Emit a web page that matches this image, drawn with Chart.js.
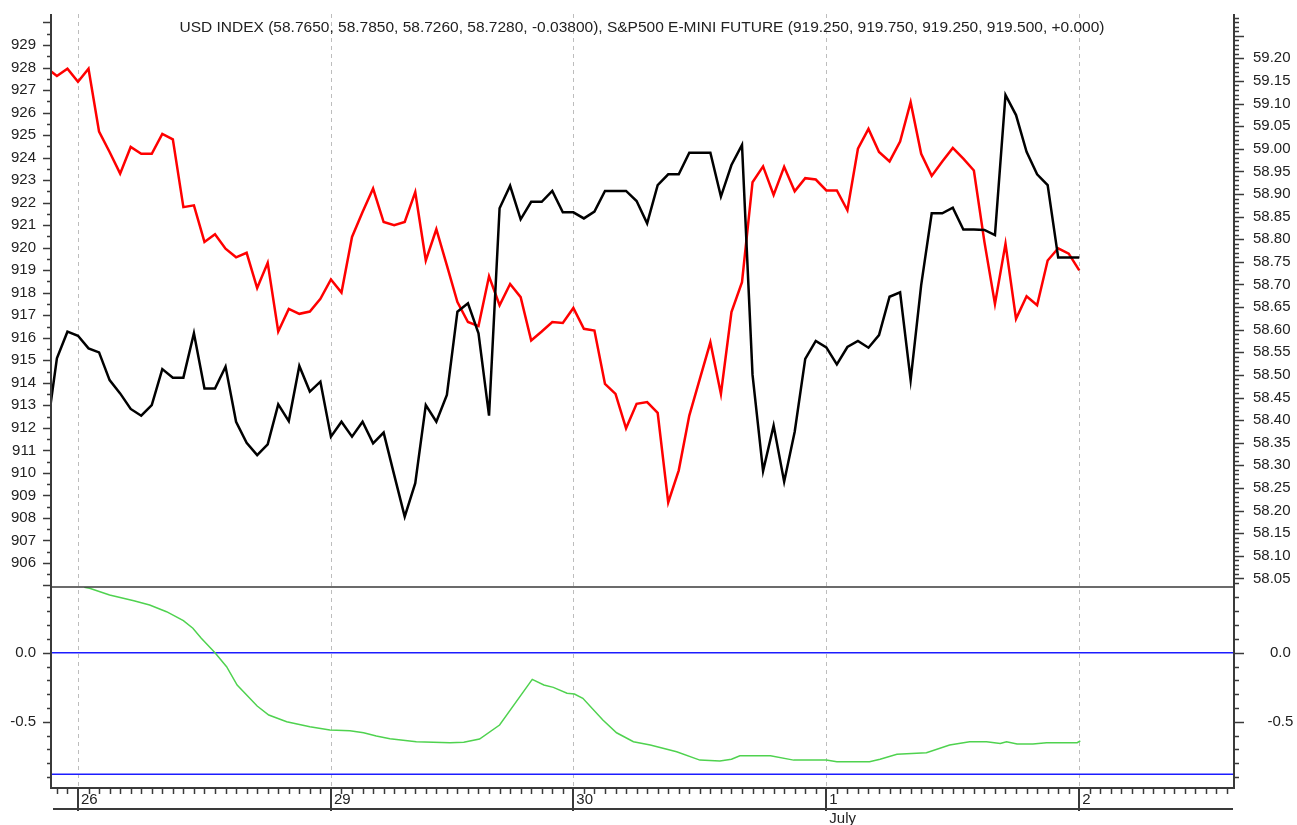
<!DOCTYPE html>
<html>
<head>
<meta charset="utf-8">
<script src="https://cdn.jsdelivr.net/npm/chart.js@4.4.1/dist/chart.umd.min.js"></script>
<style>
  html, body { margin: 0; padding: 0; background: #fff; }
  #wrap { position: relative; width: 1297px; height: 825px; }
  #title {
    position: absolute; left: 0; top: 18px; width: 1284px;
    text-align: center; color: #222;
    font: 15.5px "Liberation Sans", Arial, sans-serif; line-height: 18px;
    pointer-events: none;
  }
</style>
</head>
<body>
<div id="wrap">
  <canvas id="corrChart"></canvas>
  <div id="title">USD INDEX (58.7650, 58.7850, 58.7260, 58.7280, -0.03800), S&amp;P500 E-MINI FUTURE (919.250, 919.750, 919.250, 919.500, +0.000)</div>
</div>
<script>
// hourly bars, bar 0 = start of the 26th
const firstBar = -3;

// S&P500 e-mini close per bar (left axis)
const spValues = [
  911.68, 915.09, 916.27, 916.09, 915.53, 915.35, 914.12, 913.53, 912.84, 912.54,
  913.01, 914.61, 914.23, 914.23, 916.20, 913.75, 913.75, 914.72, 912.27, 911.34,
  910.79, 911.27, 913.04, 912.30, 914.75, 913.61, 914.05, 911.61, 912.27, 911.61,
  912.27, 911.31, 911.79, 909.91, 908.06, 909.54, 913.01, 912.27, 913.46, 917.16,
  917.53, 916.20, 912.54, 921.75, 922.75, 921.26, 922.04, 922.04, 922.52, 921.57,
  921.57, 921.30, 921.60, 922.52, 922.52, 922.52, 922.07, 921.08, 922.78, 923.26,
  923.26, 924.22, 924.22, 924.22, 922.27, 923.67, 924.56, 914.35, 910.08, 912.10,
  909.61, 911.83, 915.06, 915.86, 915.57, 914.82, 915.59, 915.86, 915.56, 916.12,
  917.82, 918.02, 914.12, 918.34, 921.53, 921.53, 921.78, 920.81, 920.81, 920.79,
  920.56, 926.78, 925.89, 924.26, 923.26, 922.78, 919.56, 919.56, 919.56
];

// USD index close per bar (right axis)
const usdValues = [
  59.179, 59.161, 59.177, 59.148, 59.177, 59.038, 58.993, 58.945, 59.004, 58.989,
  58.989, 59.033, 59.021, 58.871, 58.875, 58.794, 58.811, 58.779, 58.760, 58.770,
  58.692, 58.748, 58.596, 58.646, 58.635, 58.640, 58.668, 58.711, 58.682, 58.805,
  58.860, 58.912, 58.838, 58.831, 58.838, 58.904, 58.753, 58.822, 58.742, 58.661,
  58.617, 58.608, 58.718, 58.654, 58.701, 58.672, 58.576, 58.596, 58.617, 58.615,
  58.648, 58.602, 58.598, 58.480, 58.458, 58.382, 58.436, 58.440, 58.416, 58.218,
  58.289, 58.410, 58.491, 58.572, 58.458, 58.639, 58.705, 58.926, 58.961, 58.898,
  58.960, 58.906, 58.935, 58.932, 58.908, 58.908, 58.864, 59.000, 59.044, 58.993,
  58.972, 59.016, 59.103, 58.989, 58.940, 58.972, 59.002, 58.978, 58.952, 58.794,
  58.657, 58.790, 58.624, 58.674, 58.654, 58.753, 58.780, 58.768, 58.731
];

// correlation line (lower panel)
const corrBars = [
  0.6, 1.1, 3.0, 5.3, 6.8, 8.4, 10.0, 10.9, 11.7, 13.0, 14.1, 15.1, 17.0, 18.1, 19.8,
  22.0, 23.9, 25.8, 27.1, 28.3, 29.6, 32.1, 35.3, 36.6, 38.1, 40.0, 43.1, 44.2, 45.1,
  46.4, 47.1, 47.9, 49.8, 51.1, 52.7, 54.3, 56.8, 59.0, 60.9, 62.0, 62.8, 65.7, 67.9,
  71.0, 72.0, 75.1, 76.1, 77.7, 80.5, 82.7, 84.6, 86.2, 87.5, 88.1, 89.1, 90.6, 91.9,
  94.8, 95.1
];
const corrValues = [
  0.474, 0.467, 0.418, 0.377, 0.346, 0.297, 0.232, 0.177, 0.104, 0.0, -0.101, -0.234,
  -0.386, -0.451, -0.5, -0.536, -0.56, -0.565, -0.58, -0.604, -0.623, -0.645, -0.652,
  -0.649, -0.625, -0.524, -0.193, -0.234, -0.251, -0.294, -0.299, -0.33, -0.488, -0.58,
  -0.645, -0.669, -0.717, -0.778, -0.785, -0.772, -0.746, -0.746, -0.778, -0.778, -0.79,
  -0.79, -0.772, -0.736, -0.725, -0.669, -0.645, -0.645, -0.657, -0.645, -0.662, -0.662,
  -0.652, -0.652, -0.638
];
const corrLevels = [0, -0.88];

const dayBars = [0, 24, 47, 71, 95];
const dayLabels = ['26', '29', '30', ['1', 'July'], '2'];
const spTicks = [906, 907, 908, 909, 910, 911, 912, 913, 914, 915, 916, 917, 918, 919,
  920, 921, 922, 923, 924, 925, 926, 927, 928, 929];
const usdTicks = [58.05, 58.10, 58.15, 58.20, 58.25, 58.30, 58.35, 58.40, 58.45, 58.50,
  58.55, 58.60, 58.65, 58.70, 58.75, 58.80, 58.85, 58.90, 58.95, 59.00, 59.05, 59.10,
  59.15, 59.20];
const corrTicks = [0, -0.5];
const corrTickLabels = ['0.0', '-0.5'];

const X_MIN = -2.56, X_MAX = 109.68;
const CORR_MIN = -0.98, CORR_MAX = 0.476;

Chart.defaults.font.family = '"Liberation Sans", Arial, sans-serif';
Chart.defaults.font.size = 15;
Chart.defaults.color = '#222';

const toPoints = vals => vals.map((v, k) => ({ x: firstBar + k, y: v }));
const fixedTicks = list => scale => { scale.ticks = list.map(v => ({ value: v })); };
// fixed box size, and no label overflow padding pushed into the layout
const fixBox = (w, h) => scale => {
  if (w) scale.width = w;
  if (h) scale.height = h;
  scale.paddingTop = scale.paddingBottom = scale.paddingLeft = scale.paddingRight = 0;
};
const AXIS = '#3a3a3a';

const axisDecor = {
  id: 'axisDecor',
  beforeDatasetsDraw(chart) {
    const { ctx, chartArea: a, scales: s } = chart;
    ctx.save();
    ctx.strokeStyle = '#bdbdbd';
    ctx.lineWidth = 1;
    ctx.setLineDash([4, 4]);
    dayBars.forEach(b => {
      const x = Math.round(s.x.getPixelForValue(b)) + 0.5;
      ctx.beginPath(); ctx.moveTo(x, a.top); ctx.lineTo(x, a.bottom); ctx.stroke();
    });
    ctx.restore();
  },
  afterDraw(chart) {
    const { ctx, chartArea: a, scales: s } = chart;
    const seg = (x1, y1, x2, y2) => { ctx.beginPath(); ctx.moveTo(x1, y1); ctx.lineTo(x2, y2); ctx.stroke(); };
    const yDiv = s.yL.bottom;
    ctx.save();
    ctx.strokeStyle = AXIS;

    // panel divider
    ctx.lineWidth = 1.5;
    seg(a.left, yDiv, a.right, yDiv);

    // axis lines
    ctx.lineWidth = 2;
    seg(a.left, a.top, a.left, a.bottom + 1);
    seg(a.right, a.top, a.right, a.bottom + 1);
    seg(a.left, a.bottom, a.right, a.bottom);
    seg(a.left + 2, a.bottom + 21, a.right - 1, a.bottom + 21);

    ctx.lineWidth = 1.5;
    // left ticks, upper panel
    for (let v = 905; v <= 930.01; v += 0.5) {
      const y = Math.round(s.yL.getPixelForValue(v)) + 0.5;
      if (y < a.top || y > yDiv) continue;
      seg(a.left - (Number.isInteger(v) ? 8 : 4), y, a.left, y);
    }
    // right ticks, upper panel
    for (let k = 5804; k <= 5929; k++) {
      const y = Math.round(s.yR.getPixelForValue(k / 100)) + 0.5;
      if (y < a.top || y > yDiv) continue;
      seg(a.right, y, a.right + (k % 5 === 0 ? 10 : 5), y);
    }
    // both sides, lower panel
    for (let k = 4; k >= -9; k--) {
      const y = Math.round(s.yC.getPixelForValue(k / 10)) + 0.5;
      if (y < yDiv + 2 || y > a.bottom) continue;
      const major = k === 0 || k === -5;
      seg(a.left - (major ? 8 : 4), y, a.left, y);
      seg(a.right, y, a.right + (major ? 10 : 5), y);
    }
    // x ticks, one per bar
    for (let i = Math.ceil(X_MIN); i <= Math.floor(X_MAX); i++) {
      const x = Math.round(s.x.getPixelForValue(i)) + 0.5;
      if (dayBars.includes(i)) {
        ctx.lineWidth = 2;
        seg(x - 0.5, a.bottom, x - 0.5, a.bottom + 23);
        ctx.lineWidth = 1.5;
      } else {
        seg(x, a.bottom, x, a.bottom + 6);
      }
    }
    ctx.restore();
  }
};

const hiddenGrid = { display: false, drawTicks: false };

new Chart(document.getElementById('corrChart'), {
  type: 'line',
  data: {
    datasets: [
      {
        label: 'S&P500 E-MINI FUTURE',
        data: toPoints(spValues),
        yAxisID: 'yL',
        borderColor: '#000000',
        borderWidth: 2.5,
        pointRadius: 0,
        clip: 0,
        order: 1
      },
      {
        label: 'USD INDEX',
        data: toPoints(usdValues),
        yAxisID: 'yR',
        borderColor: '#ff0000',
        borderWidth: 2.5,
        pointRadius: 0,
        clip: 0,
        order: 2
      },
      {
        label: 'Correlation',
        data: corrBars.map((b, k) => ({ x: b, y: corrValues[k] })),
        yAxisID: 'yC',
        borderColor: '#4fd24f',
        borderWidth: 1.5,
        pointRadius: 0,
        order: 3
      },
      ...corrLevels.map(lv => ({
        label: 'level ' + lv,
        data: [{ x: X_MIN, y: lv }, { x: X_MAX, y: lv }],
        yAxisID: 'yC',
        borderColor: '#1c1cff',
        borderWidth: 1.5,
        pointRadius: 0,
        order: 4
      }))
    ]
  },
  options: {
    responsive: true,
    maintainAspectRatio: false,
    animation: false,
    events: [],
    layout: { padding: { top: 14, left: 0, right: 0, bottom: 0 } },
    plugins: {
      legend: { display: false },
      tooltip: { enabled: false }
    },
    scales: {
      x: {
        type: 'linear',
        min: X_MIN,
        max: X_MAX,
        grid: hiddenGrid,
        border: { display: false },
        afterBuildTicks: fixedTicks(dayBars),
        afterFit: fixBox(0, 37),
        ticks: {
          align: 'start',
          labelOffset: 3,
          padding: 2,
          maxRotation: 0,
          autoSkip: false,
          font: { size: 15, lineHeight: 1.3 },
          callback: (v, i) => dayLabels[i]
        }
      },
      yC: {
        type: 'linear',
        position: 'left',
        stack: 'left',
        stackWeight: 201,
        min: CORR_MIN,
        max: CORR_MAX,
        grid: hiddenGrid,
        border: { display: false },
        afterBuildTicks: fixedTicks(corrTicks),
        afterFit: fixBox(51, 0),
        ticks: { padding: 15, autoSkip: false, callback: (v, i) => corrTickLabels[i] }
      },
      yL: {
        type: 'linear',
        position: 'left',
        stack: 'left',
        stackWeight: 573,
        min: 904.933,
        max: 930.377,
        grid: hiddenGrid,
        border: { display: false },
        afterBuildTicks: fixedTicks(spTicks),
        afterFit: fixBox(51, 0),
        ticks: { padding: 15, autoSkip: false, callback: v => String(v) }
      },
      yR: {
        type: 'linear',
        position: 'right',
        stack: 'right',
        stackWeight: 573,
        min: 58.031,
        max: 59.298,
        grid: hiddenGrid,
        border: { display: false },
        afterBuildTicks: fixedTicks(usdTicks),
        afterFit: fixBox(63, 0),
        ticks: { padding: 19, autoSkip: false, callback: v => v.toFixed(2) }
      },
      yCR: {
        type: 'linear',
        position: 'right',
        stack: 'right',
        stackWeight: 201,
        min: CORR_MIN,
        max: CORR_MAX,
        grid: hiddenGrid,
        border: { display: false },
        afterBuildTicks: fixedTicks(corrTicks),
        afterFit: fixBox(63, 0),
        ticks: { padding: 33.5, crossAlign: 'center', autoSkip: false, callback: (v, i) => corrTickLabels[i] }
      }
    }
  },
  plugins: [axisDecor]
});
</script>
</body>
</html>
